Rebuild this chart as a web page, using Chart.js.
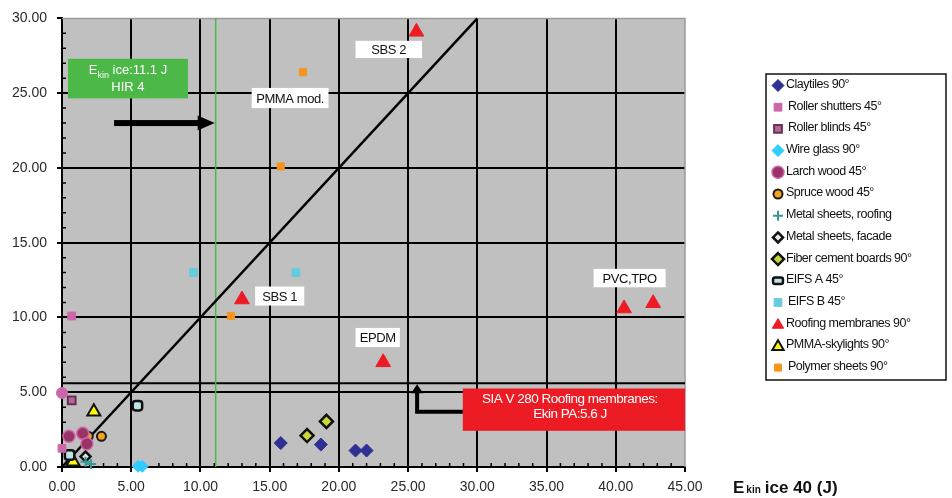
<!DOCTYPE html>
<html>
<head>
<meta charset="utf-8">
<script src="https://cdn.jsdelivr.net/npm/chart.js@4.4.1/dist/chart.umd.min.js"></script>
<style>
  html, body { margin: 0; padding: 0; background: #ffffff; }
  #wrap { width: 952px; height: 498px; position: relative; }
</style>
</head>
<body>
<div id="wrap"><canvas id="c" width="952" height="498"></canvas></div>
<script>
// Hail impact tests: E_kin ice 40 (J) on x, damage energy (J) on y
const xTickValues = [0, 5, 10, 15, 20, 25, 30, 35, 40, 45];
const yTickValues = [0, 5, 10, 15, 20, 25, 30];

const clayTiles        = [[15.8, 1.6], [18.7, 1.5], [21.2, 1.1], [22.0, 1.1]];
const rollerShutters   = [[0.7, 10.1], [0.0, 1.25], [0.0, 4.95]];
const rollerBlinds     = [[0.7, 4.45]];
const wireGlass        = [[5.5, 0.05], [5.8, 0.05]];
const larchWood        = [[0.5, 2.05], [1.5, 2.25], [1.8, 1.55]];
const spruceWood       = [[1.9, 2.05], [2.85, 2.05]];
const metalRoofing     = [[1.7, 0.35], [2.1, 0.2]];
const metalFacade      = [[1.7, 0.7]];
const fiberCement      = [[17.7, 2.1], [19.1, 3.05]];
const eifsA            = [[5.45, 4.1], [0.55, 0.8]];
const eifsB            = [[9.5, 13.0], [16.9, 13.0]];
const roofingMembranes = [[13.0, 11.2], [25.6, 29.1], [23.2, 7.0], [40.6, 10.6], [42.7, 10.95]];
const pmmaSkylights    = [[2.3, 3.7], [0.8, 0.35]];
const polymerSheets    = [[17.4, 26.4], [15.8, 20.1], [12.2, 10.1]];

// Reference levels (J)
const hirEnergy = 11.1;
const siaEnergy = 5.6;

const series = [
  { label: 'Claytiles 90°',            data: clayTiles,        style: 'rectRot',     r: 6.5, bg: '#2E3192', bc: '#2E3192', bw: 1 },
  { label: 'Roller shutters 45°',      data: rollerShutters,   style: ['rect', 'rect', 'circle'], r: 5.5, bg: '#CC66AA', bc: '#CC66AA', bw: 1 },
  { label: 'Roller blinds 45°',        data: rollerBlinds,     style: 'rect',        r: 5.5, bg: '#B06A98', bc: '#6A2E55', bw: 2 },
  { label: 'Wire glass 90°',           data: wireGlass,        style: 'rectRot',     r: 6,   bg: '#33CCFF', bc: '#33CCFF', bw: 1 },
  { label: 'Larch wood 45°',           data: larchWood,        style: 'circle',      r: 6,   bg: '#993366', bc: '#CC66AA', bw: 1.5 },
  { label: 'Spruce wood 45°',          data: spruceWood,       style: 'circle',      r: 4.5, bg: '#F7A21B', bc: '#1A1A1A', bw: 2 },
  { label: 'Metal sheets, roofing',    data: metalRoofing,     style: 'cross',       r: 5,   bg: '#339999', bc: '#339999', bw: 2 },
  { label: 'Metal sheets, facade',     data: metalFacade,      style: 'rectRot',     r: 5,   bg: '#E8E8E8', bc: '#111111', bw: 2.5 },
  { label: 'Fiber cement boards 90°',  data: fiberCement,      style: 'rectRot',     r: 6.5, bg: '#C8D838', bc: '#111111', bw: 2.5 },
  { label: 'EIFS A 45°',               data: eifsA,            style: 'rectRounded', r: 5.5, bg: '#BFE3E3', bc: '#111111', bw: 2.5 },
  { label: 'EIFS B 45°',               data: eifsB,            style: 'rect',        r: 5.5, bg: '#66CCDD', bc: '#66CCDD', bw: 1 },
  { label: 'Roofing membranes 90°',    data: roofingMembranes, style: 'triangle',    r: 8.5, bg: '#ED1C24', bc: '#ED1C24', bw: 1 },
  { label: 'PMMA-skylights 90°',       data: pmmaSkylights,    style: 'triangle',    r: 7.5, bg: '#FFFF00', bc: '#111111', bw: 2 },
  { label: 'Polymer sheets 90°',       data: polymerSheets,    style: 'rect',        r: 5,   bg: '#F7941D', bc: '#F7941D', bw: 1 }
];

const FONT = "'Liberation Sans', Arial, sans-serif";

// Text boxes on the plot: data-space rectangles with their labels
const labelBoxes = [
  { text: 'PMMA mod.', x0: 13.7,  x1: 19.25, y0: 24.0,  y1: 25.35 },
  { text: 'SBS 2',     x0: 21.2,  x1: 26.0,  y0: 27.35, y1: 28.5 },
  { text: 'SBS 1',     x0: 13.95, x1: 17.5,  y0: 10.8,  y1: 12.07 },
  { text: 'EPDM',      x0: 21.2,  x1: 24.4,  y0: 8.02,  y1: 9.3 },
  { text: 'PVC,TPO',   x0: 38.4,  x1: 43.6,  y0: 12.02, y1: 13.25 }
];

function drawMarker(ctx, style, x, y, r, bg, bc, bw) {
  ctx.save();
  ctx.fillStyle = bg;
  ctx.strokeStyle = bc;
  ctx.lineWidth = bw;
  ctx.beginPath();
  if (style === 'rectRot') {
    ctx.moveTo(x, y - r); ctx.lineTo(x + r, y); ctx.lineTo(x, y + r); ctx.lineTo(x - r, y); ctx.closePath();
    ctx.fill(); ctx.stroke();
  } else if (style === 'rect') {
    const s = r * Math.SQRT1_2 * 2;
    ctx.rect(x - s / 2, y - s / 2, s, s); ctx.fill(); ctx.stroke();
  } else if (style === 'rectRounded') {
    const w = r * 1.8, h = r * 1.2;
    ctx.roundRect(x - w / 2, y - h / 2, w, h, 2); ctx.fill(); ctx.stroke();
  } else if (style === 'circle') {
    ctx.arc(x, y, r, 0, Math.PI * 2); ctx.fill(); ctx.stroke();
  } else if (style === 'triangle') {
    const h = r * 1.5;
    ctx.moveTo(x, y - h * 0.62); ctx.lineTo(x + r * 0.95, y + h * 0.45); ctx.lineTo(x - r * 0.95, y + h * 0.45); ctx.closePath();
    ctx.fill(); ctx.stroke();
  } else if (style === 'cross') {
    ctx.moveTo(x - r, y); ctx.lineTo(x + r, y); ctx.moveTo(x, y - r); ctx.lineTo(x, y + r); ctx.stroke();
  }
  ctx.restore();
}

function arrowHead(ctx, tipX, tipY, dir, len, half) {
  ctx.beginPath();
  if (dir === 'right') {
    ctx.moveTo(tipX, tipY); ctx.lineTo(tipX - len, tipY - half); ctx.lineTo(tipX - len, tipY + half);
  } else {
    ctx.moveTo(tipX, tipY); ctx.lineTo(tipX - half, tipY + len); ctx.lineTo(tipX + half, tipY + len);
  }
  ctx.closePath();
  ctx.fill();
}

const plotDecor = {
  id: 'plotDecor',
  beforeDraw(chart) {
    const { ctx, chartArea: a } = chart;
    ctx.save();
    ctx.fillStyle = '#C0C0C0';
    ctx.fillRect(a.left, a.top, a.right - a.left, a.bottom - a.top);
    ctx.restore();
  },
  beforeDatasetsDraw(chart) {
    const { ctx, chartArea: a, scales: { x, y } } = chart;
    ctx.save();
    // light frame on the top and right edges
    ctx.strokeStyle = '#9A9A9A';
    ctx.lineWidth = 1.5;
    ctx.beginPath();
    ctx.moveTo(a.left, a.top); ctx.lineTo(a.right, a.top); ctx.lineTo(a.right, a.bottom);
    ctx.stroke();
    // minor ticks every 1 J
    ctx.strokeStyle = '#000';
    ctx.lineWidth = 1.5;
    ctx.beginPath();
    for (let v = 1; v < 45; v++) {
      if (v % 5 === 0) continue;
      const px = x.getPixelForValue(v);
      ctx.moveTo(px, a.bottom); ctx.lineTo(px, a.bottom - 4);
    }
    for (let v = 1; v < 30; v++) {
      if (v % 5 === 0) continue;
      const py = y.getPixelForValue(v);
      ctx.moveTo(a.left, py); ctx.lineTo(a.left + 4, py);
    }
    ctx.stroke();
    // SIA V 280 level
    ctx.lineWidth = 2;
    ctx.beginPath();
    ctx.moveTo(a.left, y.getPixelForValue(siaEnergy));
    ctx.lineTo(a.right, y.getPixelForValue(siaEnergy));
    ctx.stroke();
    // HIR 4 level
    ctx.strokeStyle = '#4DB848';
    ctx.lineWidth = 1.5;
    ctx.beginPath();
    ctx.moveTo(x.getPixelForValue(hirEnergy), a.bottom);
    ctx.lineTo(x.getPixelForValue(hirEnergy), a.top);
    ctx.stroke();
    // equal-energy diagonal
    ctx.strokeStyle = '#000';
    ctx.lineWidth = 2.5;
    ctx.beginPath();
    ctx.moveTo(x.getPixelForValue(0), y.getPixelForValue(0));
    ctx.lineTo(x.getPixelForValue(30), y.getPixelForValue(30));
    ctx.stroke();
    ctx.restore();
  },
  afterDatasetsDraw(chart) {
    const { ctx, scales: { x, y } } = chart;
    ctx.save();
    ctx.textBaseline = 'middle';
    ctx.textAlign = 'center';

    // white label boxes
    labelBoxes.forEach(b => {
      const l = x.getPixelForValue(b.x0), r = x.getPixelForValue(b.x1);
      const t = y.getPixelForValue(b.y1), btm = y.getPixelForValue(b.y0);
      ctx.fillStyle = '#FFFFFF';
      ctx.fillRect(l, t, r - l, btm - t);
      ctx.fillStyle = '#111';
      ctx.font = '13px ' + FONT;
      ctx.letterSpacing = '-0.4px';
      ctx.fillText(b.text, (l + r) / 2, (t + btm) / 2 + 1);
    });
    ctx.letterSpacing = '0px';

    // green HIR 4 box
    {
      const l = x.getPixelForValue(0.43), r = x.getPixelForValue(9.1);
      const t = y.getPixelForValue(27.3), btm = y.getPixelForValue(24.65);
      ctx.fillStyle = '#4CB848';
      ctx.fillRect(l, t, r - l, btm - t);
      ctx.fillStyle = '#FFFFFF';
      const cx = (l + r) / 2;
      const line1y = t + 12, line2y = t + 29;
      ctx.font = '13px ' + FONT;
      const wE = ctx.measureText('E').width;
      const wRest = ctx.measureText(' ice:11.1 J').width;
      ctx.font = '9px ' + FONT;
      const wSub = ctx.measureText('kin').width;
      let sx = cx - (wE + wSub + wRest) / 2;
      ctx.textAlign = 'left';
      ctx.font = '13px ' + FONT;
      ctx.fillText('E', sx, line1y);
      ctx.font = '9px ' + FONT;
      ctx.fillText('kin', sx + wE, line1y + 5);
      ctx.font = '13px ' + FONT;
      ctx.fillText(' ice:11.1 J', sx + wE + wSub, line1y);
      ctx.textAlign = 'center';
      ctx.fillText('HIR 4', cx, line2y);
    }

    // arrow towards the HIR 4 line
    {
      const ay = y.getPixelForValue(23.0);
      const x0 = x.getPixelForValue(3.76);
      const tip = x.getPixelForValue(hirEnergy) - 1;
      ctx.fillStyle = '#000';
      ctx.fillRect(x0, ay - 3, tip - 16 - x0, 6);
      arrowHead(ctx, tip, ay, 'right', 17, 7.5);
    }

    // red SIA V 280 box with elbow arrow
    {
      const l = x.getPixelForValue(28.95), r = x.getPixelForValue(45);
      const t = y.getPixelForValue(5.25), btm = y.getPixelForValue(2.42);
      ctx.fillStyle = '#ED1C24';
      ctx.fillRect(l, t, r - l, btm - t);
      ctx.fillStyle = '#FFFFFF';
      ctx.font = '13.5px ' + FONT;
      ctx.letterSpacing = '-0.5px';
      const cx = (l + r) / 2 - 4;
      ctx.fillText('SIA V 280 Roofing membranes:', cx, t + 11);
      ctx.fillText('Ekin PA:5.6 J', cx, t + 26);
      ctx.letterSpacing = '0px';

      const ey = y.getPixelForValue(3.69);
      const ex = x.getPixelForValue(25.65);
      const tipY = y.getPixelForValue(siaEnergy) + 1;
      ctx.strokeStyle = '#000';
      ctx.lineWidth = 4;
      ctx.lineJoin = 'miter';
      ctx.beginPath();
      ctx.moveTo(l, ey); ctx.lineTo(ex, ey); ctx.lineTo(ex, tipY + 8);
      ctx.stroke();
      ctx.fillStyle = '#000';
      arrowHead(ctx, ex, tipY, 'up', 9, 6);
    }

    ctx.restore();
  },
  afterDraw(chart) {
    const { ctx } = chart;
    ctx.save();
    ctx.textBaseline = 'alphabetic';
    ctx.textAlign = 'left';

    // axis title next to the x tick labels
    ctx.fillStyle = '#111';
    ctx.font = 'bold 17px ' + FONT;
    let tx = 733;
    const base = 493;
    ctx.fillText('E', tx, base);
    tx += ctx.measureText('E').width + 2;
    ctx.font = 'bold 10px ' + FONT;
    ctx.fillText('kin', tx, base);
    tx += ctx.measureText('kin').width + 4;
    ctx.font = 'bold 17px ' + FONT;
    ctx.fillText('ice 40 (J)', tx, base);

    // legend box
    const lx = 766, ly = 74, lw = 180, lh = 306;
    ctx.fillStyle = '#FFFFFF';
    ctx.fillRect(lx, ly, lw, lh);
    ctx.strokeStyle = '#111';
    ctx.lineWidth = 1.5;
    ctx.strokeRect(lx, ly, lw, lh);
    ctx.textBaseline = 'middle';
    ctx.font = '12.5px ' + FONT;
    ctx.letterSpacing = '-0.5px';
    series.forEach((s, i) => {
      const cy = 84.5 + i * 21.7;
      const st = Array.isArray(s.style) ? s.style[0] : s.style;
      const rr = Math.min(s.r, 6);
      drawMarker(ctx, st, 778, cy + 1, rr, s.bg, s.bc, s.bw);
      ctx.fillStyle = '#111';
      ctx.fillText(s.label, st === 'rect' ? 788 : 786, cy);
    });
    ctx.letterSpacing = '0px';
    ctx.restore();
  }
};

const datasets = series.map(s => ({
  label: s.label,
  data: s.data.map(p => ({ x: p[0], y: p[1] })),
  pointStyle: s.style,
  pointRadius: s.r,
  pointBackgroundColor: s.bg,
  pointBorderColor: s.bc,
  pointBorderWidth: s.bw,
  showLine: false,
  clip: false
}));

const tickFont = { family: FONT, size: 14 };

new Chart(document.getElementById('c'), {
  type: 'scatter',
  data: { datasets },
  options: {
    responsive: false,
    animation: false,
    events: [],
    layout: { padding: { top: 16, right: 267, left: 0, bottom: 0 } },
    plugins: { legend: { display: false }, tooltip: { enabled: false } },
    scales: {
      x: {
        type: 'linear', min: 0, max: 45,
        afterBuildTicks: s => { s.ticks = xTickValues.map(v => ({ value: v })); },
        afterFit: s => { s.height = 31; },
        ticks: { callback: v => Number(v).toFixed(2), font: tickFont, color: '#2a2a2a', padding: 7, maxRotation: 0, autoSkip: false },
        grid: { color: c => (c.tick && c.tick.value === 45 ? 'rgba(0,0,0,0)' : '#000'), lineWidth: 2, tickLength: 5, tickColor: '#000', tickWidth: 2 },
        border: { display: true, color: '#000', width: 2 }
      },
      y: {
        type: 'linear', min: 0, max: 30,
        afterBuildTicks: s => { s.ticks = yTickValues.map(v => ({ value: v })); },
        afterFit: s => { s.width = 62; },
        ticks: { callback: v => Number(v).toFixed(2), font: tickFont, color: '#2a2a2a', padding: 10, autoSkip: false },
        grid: { color: c => (c.tick && c.tick.value === 30 ? 'rgba(0,0,0,0)' : '#000'), lineWidth: 2, tickLength: 5, tickColor: '#000', tickWidth: 2 },
        border: { display: true, color: '#000', width: 2 }
      }
    }
  },
  plugins: [plotDecor]
});
</script>
</body>
</html>
